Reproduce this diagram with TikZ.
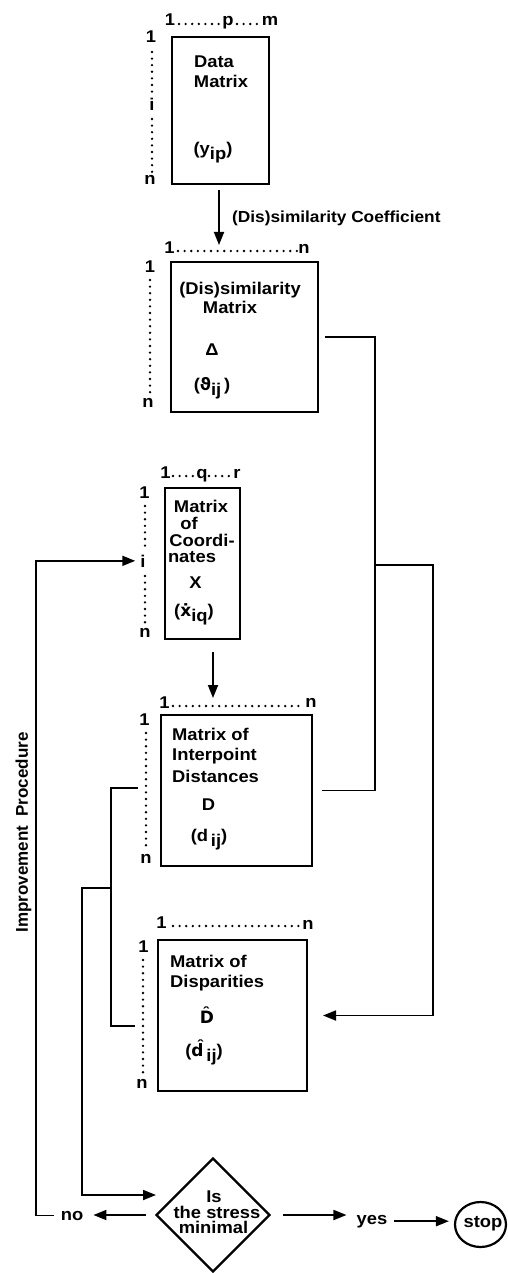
\documentclass[tikz,border=0pt]{standalone}
\usepackage{fontspec}
\setmainfont{Liberation Sans}[FakeStretch=1.08]
\newfontfamily\narrowfont{Liberation Sans}
\newfontfamily\dvfont{DejaVu Sans}
\usetikzlibrary{arrows.meta,shapes.geometric}
\newcommand\lowr[1]{\raisebox{-5pt}{#1}}
\begin{document}
\begin{tikzpicture}[x=1pt,y=-1pt,
  box/.style={draw, line width=2.8pt, inner sep=0pt, outer sep=0pt},
  conn/.style={line width=1.8pt},
  arr/.style={conn, -{Triangle[length=13pt,width=10pt]}},
  lbl/.style={font=\fontsize{17}{17}\selectfont\bfseries, inner sep=0pt, anchor=base},
  lblw/.style={lbl, anchor=base west},
  dotline/.style={line width=2.6pt, line cap=round, dash pattern=on 0pt off 6.6pt}]
\useasboundingbox (0,0) rectangle (508,1273);

% ---------- boxes ----------
\node[box, minimum width=97pt, minimum height=147pt] (data) at (220.5,110.5) {};
\node[box, minimum width=147pt, minimum height=150pt] (dis) at (244.5,337) {};
\node[box, minimum width=75pt, minimum height=151pt] (coord) at (202.5,563.5) {};
\node[box, minimum width=151pt, minimum height=151pt] (dmat) at (236.5,790.5) {};
\node[box, minimum width=149pt, minimum height=151pt] (dhat) at (232.5,1015.5) {};
\node[draw, diamond, aspect=1, line width=2.4pt, minimum width=114pt, minimum height=114pt, inner sep=0pt] (dia) at (213,1215) {};
\node[draw, ellipse, line width=2.2pt, minimum width=51pt, minimum height=45pt, inner sep=0pt] (stopel) at (480.5,1224.5) {};

% ---------- data matrix ----------
\node[lbl] (tdata1) at (214,68) {Data};
\node[lbl] (tdata2) at (221,88) {Matrix};
\node[lbl] (tdata3) at (213,155) {(y\lowr{ip})};
\node[lbl] (dt1) at (170,26) {1};
\node[lbl] (dtp) at (228,26) {p};
\node[lbl] (dtm) at (270,26) {m};
\draw[dotline] (179,24) -- (221,24);
\draw[dotline] (237,24) -- (261,24);
\node[lbl] (dl1) at (151,43) {1};
\node[lbl] (dli) at (152,111) {i};
\node[lbl] (dln) at (150,185) {n};
\draw[dotline] (152,52) -- (152,97);
\draw[dotline] (152,119) -- (152,174);

% ---------- dissimilarity matrix ----------
\node[lbl] (tdis1) at (240,294) {(Dis)similarity};
\node[lbl] (tdis2) at (230,313) {Matrix};
\node[lbl] (tdis3) at (212,355) {Δ};
\node[lbl] (tdis4) at (212,390) {({\dvfont\bfseries ϑ}\lowr{ij}\,)};
\node[lbl] (st1) at (169.5,253) {1};
\node[lbl] (stn) at (304,253) {n};
\draw[dotline] (178,251) -- (297,251);
\node[lbl] (sl1) at (150,272) {1};
\node[lbl] (sln) at (148,407) {n};
\draw[dotline] (150,280) -- (150,398);

% ---------- coordinates ----------
\node[lbl] (tc1) at (201,512) {Matrix};
\node[lbl] (tc2) at (189,529) {of};
\node[lbl] (tc3) at (202,546) {Coordi-};
\node[lbl] (tc4) at (192,562) {nates};
\node[lbl] (tc5) at (195.5,588) {X};
\node[lbl] (tc6) at (194,616) {({\dvfont\bfseries ẋ}\lowr{iq})};
\node[lbl] (ct1) at (165.5,478) {1};
\node[lbl] (ctq) at (202,478) {q};
\node[lbl] (ctr) at (237,478) {r};
\draw[dotline] (173,476) -- (195,476);
\draw[dotline] (209,476) -- (231,476);
\node[lbl] (cl1) at (144.5,498) {1};
\node[lbl] (ci) at (143,567) {i};
\node[lbl] (cln) at (145,637) {n};
\draw[dotline] (145,506) -- (145,552);
\draw[dotline] (145,576) -- (145,625);

% ---------- interpoint distances ----------
\node[lblw] (td1) at (172,740) {Matrix of};
\node[lblw] (td2) at (172,760) {Interpoint};
\node[lblw] (td3) at (172,782) {Distances};
\node[lbl] (td4) at (208.5,810) {D};
\node[lbl] (td5) at (209,841) {(d\,\lowr{ij})};
\node[lbl] (mt1) at (164.5,708) {1};
\node[lbl] (mtn) at (311,707) {n};
\draw[dotline] (173,706) -- (304,706);
\node[lbl] (ml1) at (144.5,725) {1};
\node[lbl] (mln) at (146,863) {n};
\draw[dotline] (146,733) -- (146,851);

% ---------- disparities ----------
\node[lblw] (th1) at (170,967) {Matrix of};
\node[lblw] (th2) at (170,987) {Disparities};
\node[lbl] (th3) at (207,1023) {{\dvfont\bfseries D̂}};
\node[lbl] (th4) at (204,1056) {({\dvfont\bfseries d̂}\,\lowr{ij})};
\node[lbl] (ht1) at (161.5,928) {1};
\node[lbl] (htn) at (308,929) {n};
\draw[dotline] (173,926) -- (301,926);
\node[lbl] (hl1) at (143.5,952) {1};
\node[lbl] (hln) at (142,1088) {n};
\draw[dotline] (143,960) -- (143,1077);

% ---------- decision ----------
\node[lbl] (q1) at (214,1202) {Is};
\node[lbl] (q2) at (217,1218) {the stress};
\node[lbl] (q3) at (213.5,1233) {minimal};
\node[lbl] (no) at (72,1220) {no};
\node[lbl] (yes) at (372,1224) {yes};
\node[lbl] (tstop) at (483,1227) {stop};

% ---------- side labels ----------
\node[lblw, font=\fontsize{16}{16}\selectfont\bfseries] (coef) at (232,223) {(Dis)similarity Coefficient};
\node[font=\fontsize{17}{17}\selectfont\narrowfont\bfseries, inner sep=0pt, rotate=90] (impr) at (23.5,832.5) {Improvement\ \ Procedure};

% ---------- helper coordinates ----------
\coordinate (jr1) at (375,565);
\coordinate (jr2) at (433,800);
\coordinate (b1) at (138,788);
\coordinate (b2) at (135,1026);
\coordinate (jl) at (111,888);
\coordinate (jl2) at (82,1000);
\coordinate (dtgt) at (156,1195);
\coordinate (imp) at (36,900);

% ---------- connectors ----------
\draw[arr, shorten <=6pt, shorten >=17pt] (data.south -| 219,0) -- (dis.north -| 219,0);
\draw[arr, shorten <=13pt, shorten >=17pt] (coord.south -| 213,0) -- (dmat.north -| 213,0);
\draw[conn, shorten <=7pt] (dis.east) -| (jr1);
\draw[conn, shorten <=10pt] (dmat.east) -| (jr1);
\draw[arr, shorten >=16pt] (jr1) -| (jr2) |- (dhat.east);
\draw[conn] (b1) -| (jl) |- (b2);
\draw[arr] (jl) -| (jl2) |- (dtgt);
\draw[arr, shorten <=7pt, shorten >=5pt] (no.west) -| (imp) |- (ci.west);
\draw[arr, shorten <=9pt, shorten >=10pt] (dia.west) -- (dia.west -| no.east);
\draw[arr, shorten <=12pt, shorten >=10pt] (dia.east) -- (dia.east -| yes.west);
\draw[arr, shorten <=6pt, shorten >=5pt] (yes.east) -- (yes.east -| stopel.west);
\end{tikzpicture}
\end{document}
